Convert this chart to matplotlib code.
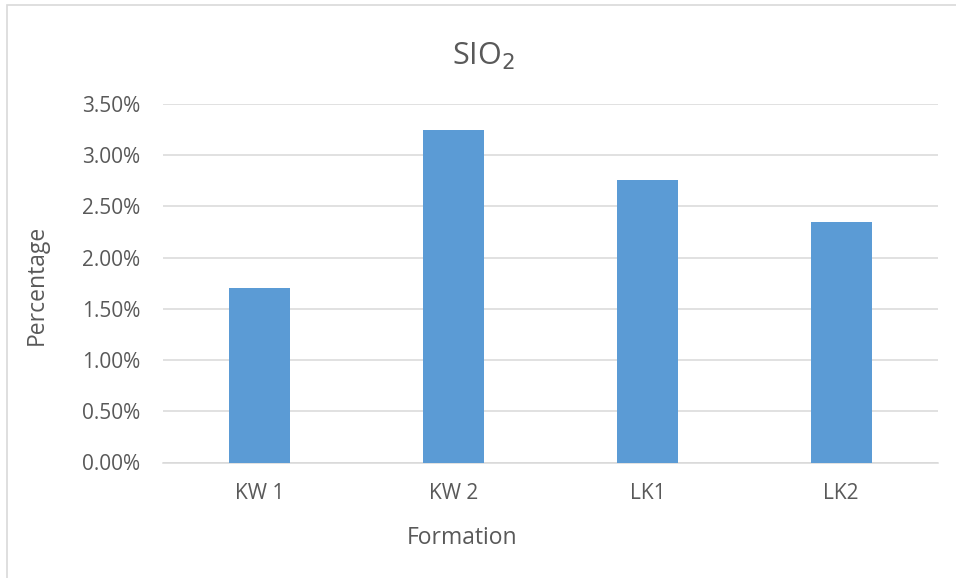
import matplotlib
matplotlib.use("Agg")
import matplotlib.pyplot as plt
from matplotlib.patches import Rectangle
from matplotlib.ticker import FuncFormatter, MultipleLocator

categories = ["KW 1", "KW 2", "LK1", "LK2"]
sio2_pct = [1.70, 3.25, 2.76, 2.35]

plt.rcParams["font.family"] = ["Open Sans", "DejaVu Sans"]
TEXT = "#595959"

fig = plt.figure(figsize=(9.56, 5.78), dpi=100)
fig.patch.set_facecolor("white")

# chart-area border (only the left and top edges fall inside the canvas)
fig.patches.append(Rectangle((6.5 / 956, -0.05), 1.2, 1.05 - 5.5 / 578,
                             transform=fig.transFigure, fill=False,
                             edgecolor="#d9d9d9", linewidth=1.2, zorder=0))

ax = fig.add_axes([163 / 956, 1 - 462.5 / 578, (938 - 163) / 956, (462.5 - 104) / 578])
x = range(len(categories))
ax.bar(x, sio2_pct, width=0.315, color="#5b9bd5", zorder=3)

ax.set_xlim(-0.5, len(categories) - 0.5)
ax.set_ylim(0, 3.5)
ax.yaxis.set_major_locator(MultipleLocator(0.5))
ax.yaxis.set_major_formatter(FuncFormatter(lambda v, _: f"{v:.2f}%"))
ax.set_xticks(list(x))
ax.set_xticklabels(categories)

ax.grid(axis="y", color="#d9d9d9", linewidth=1.1, zorder=0)
ax.set_axisbelow(True)
for s in ["top", "right", "left"]:
    ax.spines[s].set_visible(False)
ax.spines["bottom"].set_color("#d9d9d9")
ax.spines["bottom"].set_linewidth(1.1)
ax.tick_params(axis="both", length=0, labelsize=15, labelcolor=TEXT)
ax.tick_params(axis="x", pad=15)
ax.tick_params(axis="y", pad=16.5)

fig.text(37 / 956, 1 - 285 / 578, "Percentage", rotation=90, fontsize=16.5,
         color=TEXT, ha="center", va="center")
fig.text(462 / 956, 1 - 538 / 578, "Formation", fontsize=16.5,
         color=TEXT, ha="center", va="center")
fig.text(483 / 956, 1 - 56 / 578, r"SIO$_2$",
         fontsize=22, color=TEXT, ha="center", va="center")

fig.savefig("out.png", dpi=100, facecolor="white")
